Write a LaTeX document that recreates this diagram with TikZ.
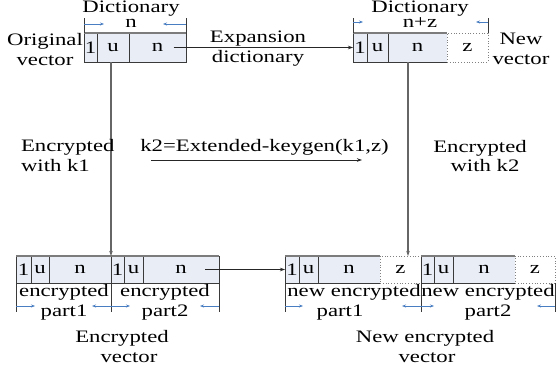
\documentclass[tikz,border=0pt]{standalone}
\usepackage{fontspec}
\setmainfont{Liberation Serif}[FakeStretch=1.3]
\usetikzlibrary{arrows.meta}
\definecolor{cellfill}{HTML}{E8EDF6}
\definecolor{cellline}{HTML}{3A3A3A}
\definecolor{topline}{HTML}{7C7C7C}
\definecolor{dimblue}{HTML}{4A7EC2}
\tikzset{
  txt/.style={inner sep=0pt, outer sep=0pt, text=black, font=\fontsize{17.5}{20}\selectfont},
  cell/.style={txt, draw=cellline, fill=cellfill, line width=0.8pt, minimum height=#1, anchor=center},
  cell/.default=29pt,
  zcell/.style={txt, draw=gray, dotted, line width=0.8pt, fill=white, minimum height=#1, anchor=center},
  zcell/.default=29pt,
  conn/.style={-{Stealth[length=5pt,width=3.5pt]}, line width=0.8pt, draw=black!85},
  vconn/.style={-{Stealth[length=5pt,width=3.5pt]}, line width=1.4pt, draw=black!60},
  dimarrow/.style={-{Stealth[length=4pt,width=3pt]}, line width=0.7pt, draw=dimblue},
  tick/.style={line width=0.9pt, draw=cellline},
  topedge/.style={line width=1.6pt, draw=topline}
}
\begin{document}
\begin{tikzpicture}[x=1pt,y=-1pt]
\useasboundingbox (0,0) rectangle (556,375);

% ---------- top-left: original vector ----------
\node[cell, minimum width=13pt] (a1) at (90.5,47.5) {1};
\node[cell, minimum width=32pt] (a2) at (113,47.5) {u};
\node[cell, minimum width=57pt] (a3) at (157.5,47.5) {n};
\draw[topedge] (a1.north west) -- (a3.north east);
\coordinate (a1t) at (84,18);
\coordinate (a3t) at (186,18);
\draw[tick] (a1t) -- (a1.north west);
\draw[tick] (a3t) -- (a3.north east);
\coordinate (a1d) at (84,24);
\coordinate (a3d) at (186,24);
\draw[dimarrow] (a1d) -- ++(20,0);
\draw[dimarrow] (a3d) -- ++(-23,0);
\node[txt] (nlab) at (131,23.5) {n};
\node[txt] (dict1) at (131,8.5) {Dictionary};
\node[txt, align=center] (orig) at (45,49.5) {Original\\vector};

% ---------- top-right: new vector ----------
\node[cell, minimum width=14pt] (b1) at (360,47.5) {1};
\node[cell, minimum width=21pt] (b2) at (377.5,47.5) {u};
\node[cell, minimum width=59pt] (b3) at (417.5,47.5) {n};
\node[zcell, minimum width=41pt] (b4) at (467.5,47.5) {z};
\draw[topedge] (b1.north west) -- (b3.north east);
\coordinate (b1t) at (353,18);
\coordinate (b4t) at (488,18);
\draw[tick] (b1t) -- (b1.north west);
\draw[tick] (b4t) -- (b4.north east);
\coordinate (b1d) at (353,22);
\coordinate (b4d) at (488,22);
\draw[dimarrow] (b1d) -- ++(10,0);
\draw[dimarrow] (b4d) -- ++(-12,0);
\node[txt] (nzlab) at (420,23) {n+z};
\node[txt] (dict2) at (420,8.5) {Dictionary};
\node[txt, align=center] (newv) at (521,49) {New\\vector};

% expansion arrow
\node[txt, align=center] (expd) at (258,48.5) {Expansion\\dictionary};
\draw[conn] ([xshift=16pt]a3.center) -- (b1.west);

% ---------- bottom-left: encrypted vector ----------
\node[cell=27pt, minimum width=15pt] (c1) at (23.5,269.5) {1};
\node[cell=27pt, minimum width=18pt] (c2) at (40,269.5) {u};
\node[cell=27pt, minimum width=62pt] (c3) at (80,269.5) {n};
\node[cell=27pt, minimum width=13pt] (c4) at (117.5,269.5) {1};
\node[cell=27pt, minimum width=19pt] (c5) at (133.5,269.5) {u};
\node[cell=27pt, minimum width=76pt] (c6) at (181,269.5) {n};
\draw[topedge] (c1.north west) -- (c6.north east);
\coordinate (c1b) at (16,312);
\coordinate (c4b) at (111,312);
\coordinate (c6b) at (219,312);
\draw[tick] (c1.south west) -- (c1b);
\draw[tick] (c4.south west) -- (c4b);
\draw[tick] (c6.south east) -- (c6b);
\coordinate (c1d) at (16,306);
\coordinate (c4d) at (111,306);
\coordinate (c6d) at (219,306);
\draw[dimarrow] (c1d) -- ++(19,0);
\draw[dimarrow] (c4d) -- ++(-19,0);
\draw[dimarrow] (c4d) -- ++(19,0);
\draw[dimarrow] (c6d) -- ++(-19,0);
\node[txt, align=center] (ep1) at (64,302.5) {encrypted\\part1};
\node[txt, align=center] (ep2) at (165,302.5) {encrypted\\part2};
\node[txt] (encv1) at (122,338) {Encrypted};
\node[txt] (encv2) at (129,358) {vector};

% ---------- bottom-right: new encrypted vector ----------
\node[cell=27pt, minimum width=14pt] (d1) at (292,269.5) {1};
\node[cell=27pt, minimum width=19pt] (d2) at (308.5,269.5) {u};
\node[cell=27pt, minimum width=62pt] (d3) at (349,269.5) {n};
\node[zcell=27pt, minimum width=41pt] (d4) at (400.5,269.5) {z};
\node[cell=27pt, minimum width=13pt] (d5) at (427.5,269.5) {1};
\node[cell=27pt, minimum width=19pt] (d6) at (443.5,269.5) {u};
\node[cell=27pt, minimum width=62pt] (d7) at (484,269.5) {n};
\node[zcell=27pt, minimum width=40pt] (d8) at (535,269.5) {z};
\draw[topedge] (d1.north west) -- (d3.north east);
\draw[topedge] (d5.north west) -- (d7.north east);
\coordinate (d1b) at (285,312);
\coordinate (d5b) at (421,312);
\coordinate (d8b) at (555,312);
\draw[tick] (d1.south west) -- (d1b);
\draw[tick] (d5.south west) -- (d5b);
\draw[tick] (d8.south east) -- (d8b);
\coordinate (d1d) at (285,306);
\coordinate (d5d) at (421,306);
\coordinate (d8d) at (555,306);
\draw[dimarrow] (d1d) -- ++(18,0);
\draw[dimarrow] (d5d) -- ++(-19,0);
\draw[dimarrow] (d5d) -- ++(13,0);
\draw[dimarrow] (d8d) -- ++(-18,0);
\node[txt] (nep1a) at (354,292) {new encrypted};
\node[txt] (nep1b) at (340,313) {part1};
\node[txt] (nep2a) at (488,292) {new encrypted};
\node[txt] (nep2b) at (488,313) {part2};
\node[txt] (nencv1) at (425,338) {New encrypted};
\node[txt] (nencv2) at (427,358) {vector};

% ---------- vertical arrows ----------
\draw[vconn] (c4.north west |- a2.south) -- (c4.north west);
\coordinate (vr) at (408,62);
\draw[vconn] (vr) -- (vr |- d4.north);

% bottom horizontal arrow
\draw[conn] ([xshift=24pt]c6.center) -- (d1.west);

% ---------- middle labels ----------
\node[txt, align=left, anchor=west] (k1lab) at (21,156) {Encrypted\\with k1};
\node[txt] (k2a) at (480,148) {Encrypted};
\node[txt] (k2b) at (485,166) {with k2};
\node[txt] (keygen) at (264.5,147) {k2=Extended-keygen(k1,z)};
\coordinate (kA) at (151,160);
\coordinate (kB) at (362,160);
\draw[conn] (kA) -- (kB);
\end{tikzpicture}
\end{document}
